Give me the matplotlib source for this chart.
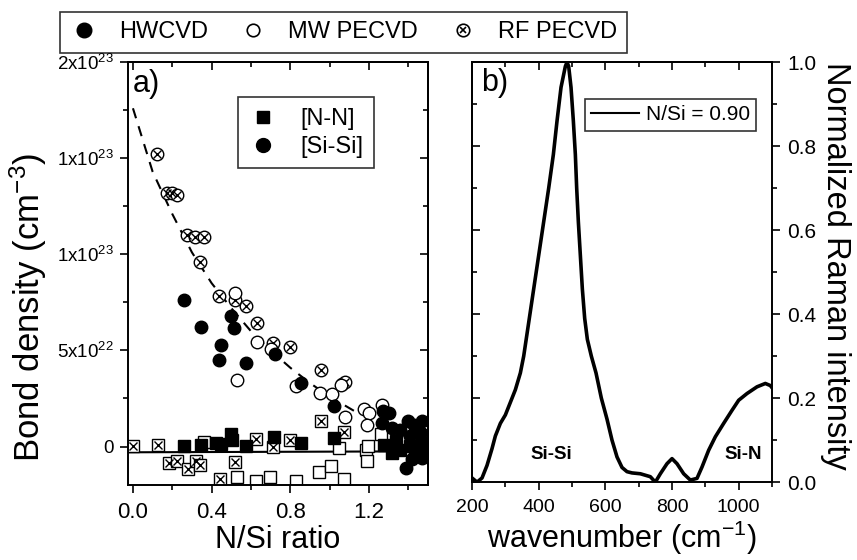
import matplotlib
matplotlib.use("Agg")
import matplotlib.pyplot as plt
from matplotlib.lines import Line2D
from matplotlib.ticker import MultipleLocator, NullFormatter, FixedLocator

plt.rcParams['font.family'] = ['Liberation Sans', 'DejaVu Sans']
plt.rcParams['mathtext.fontset'] = 'custom'
plt.rcParams['mathtext.rm'] = 'Liberation Sans'
plt.rcParams['mathtext.default'] = 'regular'

# panel a: bond densities in units of 1e22 cm^-3
hw_sisi_x = [0.262, 0.344, 0.50, 0.513, 0.446, 0.436, 0.577, 0.724, 0.856, 1.023,
             1.272, 1.30, 1.268, 1.318, 1.36, 1.40, 1.428, 1.47, 1.462, 1.41,
             1.39, 1.42, 1.47, 1.47]
hw_sisi_y = [7.65, 6.2, 6.8, 6.15, 5.28, 4.52, 4.37, 4.8, 3.3, 2.12,
             1.83, 1.74, 1.25, 0.97, 0.88, 1.31, 1.14, 1.33, 0.71, 0.53,
             -1.1, -0.67, -0.16, -0.59]

mw_sisi_x = [0.52, 0.63, 0.70, 0.528, 0.83, 0.95, 1.01, 1.057, 1.078, 1.177,
             1.20, 1.19, 1.265]
mw_sisi_y = [8.0, 5.46, 5.1, 3.44, 3.16, 2.78, 2.72, 3.2, 1.52, 1.94,
             1.76, 1.14, 2.15]

rf_sisi_x = [0.123, 0.175, 0.196, 0.224, 0.277, 0.317, 0.361, 0.339, 0.44, 0.517,
             0.576, 0.63, 0.71, 0.80, 0.955, 1.065, 1.08]
rf_sisi_y = [15.2, 13.2, 13.2, 13.1, 11.0, 10.9, 10.9, 9.6, 7.85, 7.6,
             7.3, 6.45, 5.4, 5.2, 4.0, 3.26, 3.35]

hw_nn_x = [0.26, 0.348, 0.424, 0.449, 0.50, 0.503, 0.576, 0.719, 0.853, 1.024,
           1.276, 1.335, 1.36, 1.41, 1.436, 1.47, 1.318]
hw_nn_y = [0.02, 0.1, 0.19, 0.15, 0.67, 0.36, 0.05, 0.5, 0.19, 0.45,
           0.1, 0.28, -0.16, 0.02, -0.41, 0.19, -0.33]

mw_nn_x = [0.363, 0.528, 0.628, 0.697, 0.829, 0.947, 1.006, 1.075, 1.048, 1.183,
           1.197, 1.188, 1.262]
mw_nn_y = [0.25, -1.57, -1.8, -1.6, -1.8, -1.35, -1.0, -1.67, -0.07, -0.2,
           0.04, -0.76, 0.64]

rf_nn_x = [0.0, 0.125, 0.183, 0.226, 0.28, 0.322, 0.339, 0.443, 0.518, 0.628,
           0.712, 0.80, 0.955, 1.075]
rf_nn_y = [0.05, 0.07, -0.85, -0.76, -1.17, -0.76, -0.98, -1.7, -0.78, 0.4,
           -0.02, 0.32, 1.33, 0.74]

# guide lines
sisi_fit_x = [0.0, 0.1, 0.2, 0.3, 0.4, 0.5, 0.6, 0.7, 0.8, 0.9, 1.0, 1.1, 1.15]
sisi_fit_y = [17.6, 14.3, 12.1, 10.1, 8.5, 7.2, 6.0, 5.0, 4.1, 3.3, 2.6, 2.0, 1.7]
nn_fit_x = [-0.02, 1.5]
nn_fit_y = [-0.3, -0.25]

a_yticks = [0, 5, 10, 15, 20]
a_yticklabels = ['0', '5x10$^{22}$', '1x10$^{23}$', '1x10$^{23}$', '2x10$^{23}$']

# panel b: Raman spectrum, N/Si = 0.90
raman_wn = [200, 215, 230, 245, 260, 270, 285, 300, 315, 330, 345, 355, 370, 385,
            400, 415, 430, 444, 455, 467, 480, 485, 490, 497, 504, 510, 514, 519,
            525, 531, 538, 546, 558, 572, 588, 605, 620, 635, 650, 665, 680, 705,
            735, 750, 765, 785, 800, 815, 835, 855, 875, 890, 910, 930, 955, 980,
            1000, 1025, 1055, 1080, 1095, 1100]
raman_int = [0.01, 0.0, 0.01, 0.04, 0.08, 0.11, 0.14, 0.16, 0.19, 0.22, 0.26, 0.30,
             0.38, 0.46, 0.54, 0.62, 0.70, 0.78, 0.86, 0.94, 0.99, 1.0, 0.99, 0.94,
             0.86, 0.78, 0.70, 0.62, 0.54, 0.46, 0.39, 0.34, 0.30, 0.26, 0.20, 0.15,
             0.10, 0.06, 0.035, 0.025, 0.022, 0.02, 0.013, 0.0, 0.02, 0.044, 0.056,
             0.044, 0.02, 0.005, 0.009, 0.036, 0.076, 0.108, 0.14, 0.171, 0.195,
             0.211, 0.227, 0.235, 0.23, 0.225]


def style_axes(ax, xmajor, xminor, ymajor, yminor, ylabels_right=False):
    # Origin look: outer ticks on the labelled sides, inner ticks on the mirrored sides
    for s in ax.spines.values():
        s.set_linewidth(1.4)
    ax.xaxis.set_major_locator(MultipleLocator(xmajor))
    ax.xaxis.set_minor_locator(MultipleLocator(xminor))
    ax.tick_params(which='both', direction='out', width=1.2)
    ax.tick_params(which='major', length=6)
    ax.tick_params(which='minor', length=3.5)
    ax.yaxis.set_minor_locator(MultipleLocator(yminor))

    top = ax.secondary_xaxis('top')
    top.xaxis.set_major_locator(MultipleLocator(xmajor))
    top.xaxis.set_minor_locator(MultipleLocator(xminor))
    top.xaxis.set_major_formatter(NullFormatter())

    if ylabels_right:
        ax.yaxis.tick_right()
        ax.yaxis.set_label_position('right')
        other = ax.secondary_yaxis('left')
    else:
        other = ax.secondary_yaxis('right')
    other.yaxis.set_major_locator(FixedLocator(ymajor))
    other.yaxis.set_minor_locator(MultipleLocator(yminor))
    other.yaxis.set_major_formatter(NullFormatter())

    for sec in (top, other):
        sec.tick_params(which='both', direction='in', width=1.2)
        sec.tick_params(which='major', length=6)
        sec.tick_params(which='minor', length=3.5)
        for s in sec.spines.values():
            s.set_linewidth(1.4)


fig = plt.figure(figsize=(8.57, 5.6), dpi=100)
ax_a = fig.add_axes([0.1494, 0.134, 0.35, 0.755])
ax_b = fig.add_axes([0.5508, 0.139, 0.35, 0.750])

# ---- panel a
ms_c, ms_s = 9, 8
ax_a.plot(sisi_fit_x, sisi_fit_y, color='black', lw=1.5, ls=(0, (5, 4)))
ax_a.plot(nn_fit_x, nn_fit_y, color='black', lw=1.5)

ax_a.plot(rf_nn_x, rf_nn_y, 's', ms=ms_s, mfc='white', mec='black', mew=1)
ax_a.plot(rf_nn_x, rf_nn_y, 'x', ms=ms_s * 0.7, mec='black', mew=1)
ax_a.plot(mw_nn_x, mw_nn_y, 's', ms=ms_s, mfc='white', mec='black', mew=1)
ax_a.plot(hw_nn_x, hw_nn_y, 's', ms=ms_s, color='black')

ax_a.plot(rf_sisi_x, rf_sisi_y, 'o', ms=ms_c, mfc='white', mec='black', mew=1)
ax_a.plot(rf_sisi_x, rf_sisi_y, 'x', ms=ms_c * 0.6, mec='black', mew=1)
ax_a.plot(mw_sisi_x, mw_sisi_y, 'o', ms=ms_c, mfc='white', mec='black', mew=1)
ax_a.plot(hw_sisi_x, hw_sisi_y, 'o', ms=ms_c, color='black')

ax_a.set_xlim(-0.025, 1.5)
ax_a.set_ylim(-2, 20)
style_axes(ax_a, 0.4, 0.2, a_yticks, 2.5)
ax_a.set_yticks(a_yticks)
ax_a.set_yticklabels(a_yticklabels)
ax_a.xaxis.set_major_formatter(plt.FuncFormatter(lambda v, p: f'{v:.1f}'))
ax_a.tick_params(axis='x', labelsize=16, pad=6)
ax_a.tick_params(axis='y', labelsize=13.5, pad=4)
ax_a.set_xlabel('N/Si ratio', fontsize=22, labelpad=2)
ax_a.set_ylabel('Bond density (cm$^{-3}$)', fontsize=25)
ax_a.yaxis.set_label_coords(-0.265, 0.42)
ax_a.text(0.015, 0.985, 'a)', transform=ax_a.transAxes, fontsize=22, va='top', ha='left')

leg_a = ax_a.legend(
    [Line2D([], [], ls='none', marker='s', ms=ms_s + 1, color='black'),
     Line2D([], [], ls='none', marker='o', ms=ms_c + 1, color='black')],
    ['[N-N]', '[Si-Si]'], loc='upper left', bbox_to_anchor=(0.367, 0.917),
    borderaxespad=0, fontsize=17, frameon=True, fancybox=False, edgecolor='black',
    handlelength=1.2, handletextpad=1.0, borderpad=0.45, labelspacing=0.25)
leg_a.get_frame().set_linewidth(1.2)

# ---- panel b
ax_b.plot(raman_wn, raman_int, color='black', lw=2.6, label='N/Si = 0.90')
ax_b.set_xlim(200, 1100)
ax_b.set_ylim(0, 1.0)
style_axes(ax_b, 200, 100, [0, 0.2, 0.4, 0.6, 0.8, 1.0], 0.1, ylabels_right=True)
ax_b.yaxis.set_major_locator(MultipleLocator(0.2))
ax_b.yaxis.set_major_formatter(plt.FuncFormatter(lambda v, p: f'{v:.1f}'))
ax_b.tick_params(axis='x', labelsize=14, pad=6)
ax_b.tick_params(axis='y', labelsize=15, pad=5)
ax_b.set_xlabel('wavenumber (cm$^{-1}$)', fontsize=22, labelpad=2)
ax_b.set_ylabel('Normalized Raman intensity', fontsize=23.5, rotation=270, labelpad=26)
ax_b.yaxis.set_label_coords(1.265, 0.515)
ax_b.text(0.03, 0.985, 'b)', transform=ax_b.transAxes, fontsize=22, va='top', ha='left')
ax_b.text(437, 0.065, 'Si-Si', fontsize=13.5, fontweight='bold', ha='center', va='center')
ax_b.text(1013, 0.065, 'Si-N', fontsize=13.5, fontweight='bold', ha='center', va='center')
leg_b = ax_b.legend(loc='upper left', bbox_to_anchor=(0.377, 0.912), borderaxespad=0,
                    fontsize=15, frameon=True, fancybox=False, edgecolor='black',
                    handlelength=2.3, handletextpad=0.3, borderpad=0.3)
leg_b.get_frame().set_linewidth(1.2)
for ln in leg_b.get_lines():
    ln.set_linewidth(1.5)

# ---- shared deposition-method legend on top
h_hw = Line2D([], [], ls='none', marker='o', ms=ms_c + 1.5, color='black')
h_mw = Line2D([], [], ls='none', marker='o', ms=ms_c, mfc='white', mec='black', mew=1.2)
h_rf = (Line2D([], [], ls='none', marker='o', ms=ms_c, mfc='white', mec='black', mew=1.2),
        Line2D([], [], ls='none', marker='x', ms=ms_c * 0.55, mec='black', mew=1.2))
leg_top = fig.legend([h_hw, h_mw, h_rf], ['HWCVD', 'MW PECVD', 'RF PECVD'],
                     loc='upper left', bbox_to_anchor=(0.07, 0.979), borderaxespad=0,
                     ncol=3, fontsize=17, frameon=True, fancybox=False, edgecolor='black',
                     handlelength=1.2, handletextpad=0.9, columnspacing=1.3, borderpad=0.4)
leg_top.get_frame().set_linewidth(1.2)

fig.savefig('out.png', dpi=100)
